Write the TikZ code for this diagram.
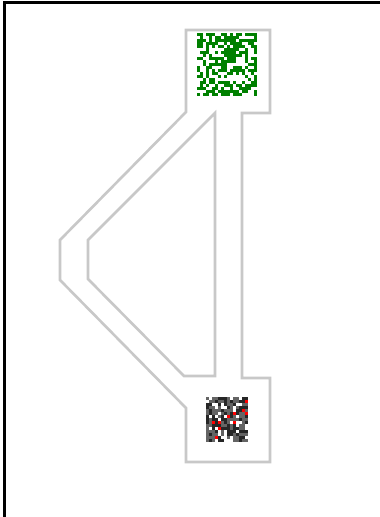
\documentclass[tikz,border=0pt]{standalone}
\definecolor{pipegray}{RGB}{200,200,200}
\definecolor{qrgreen}{RGB}{0,128,0}
\definecolor{noisegray}{RGB}{100,100,100}
\tikzset{
  pipe/.style={draw=pipegray, line width=2.6pt, line join=miter, fill=white, even odd rule},
  frameline/.style={draw=black, line width=3pt},
}
\begin{document}
\begin{tikzpicture}[x=1pt,y=-1pt]
\useasboundingbox (0,0) rectangle (380,517);
\fill[white] (0,0) rectangle (380,517);
% frame (top and left)
\draw[frameline] (3,2.5) -- (380,2.5);
\draw[frameline, line width=2.7pt] (4.7,1.2) -- (4.7,517);
% pipe outline with hole
\draw[pipe]
  (186,30) -- (270,30) -- (270,113) -- (242,113) -- (242,378) -- (270,378)
  -- (270,462) -- (186,462) -- (186,408) -- (60,280) -- (60,240) -- (186,112) -- cycle
  (215,113) -- (215,376) -- (184,376) -- (88,279) -- (88,240) -- cycle;
% top green noise
\pgfmathsetseed{17}
\foreach \i in {0,...,19}{\foreach \j in {0,...,20}{
  \pgfmathsetmacro\r{rnd}
  \ifdim\r pt>0.45pt \fill[qrgreen] ({197+3*\i},{33+3*\j}) rectangle ++(3,3); \fi
}}
% bottom dark noise
\pgfmathsetseed{5}
\foreach \i in {0,...,13}{\foreach \j in {0,...,14}{
  \pgfmathsetmacro\r{rnd}
  \ifdim\r pt<0.36pt \fill[black!85] ({206+3*\i},{397+3*\j}) rectangle ++(3,3);
  \else\ifdim\r pt<0.72pt \fill[noisegray] ({206+3*\i},{397+3*\j}) rectangle ++(3,3);
  \else\ifdim\r pt<0.78pt \fill[red] ({206+3*\i},{397+3*\j}) rectangle ++(3,3);
  \fi\fi\fi
}}
\end{tikzpicture}
\end{document}
